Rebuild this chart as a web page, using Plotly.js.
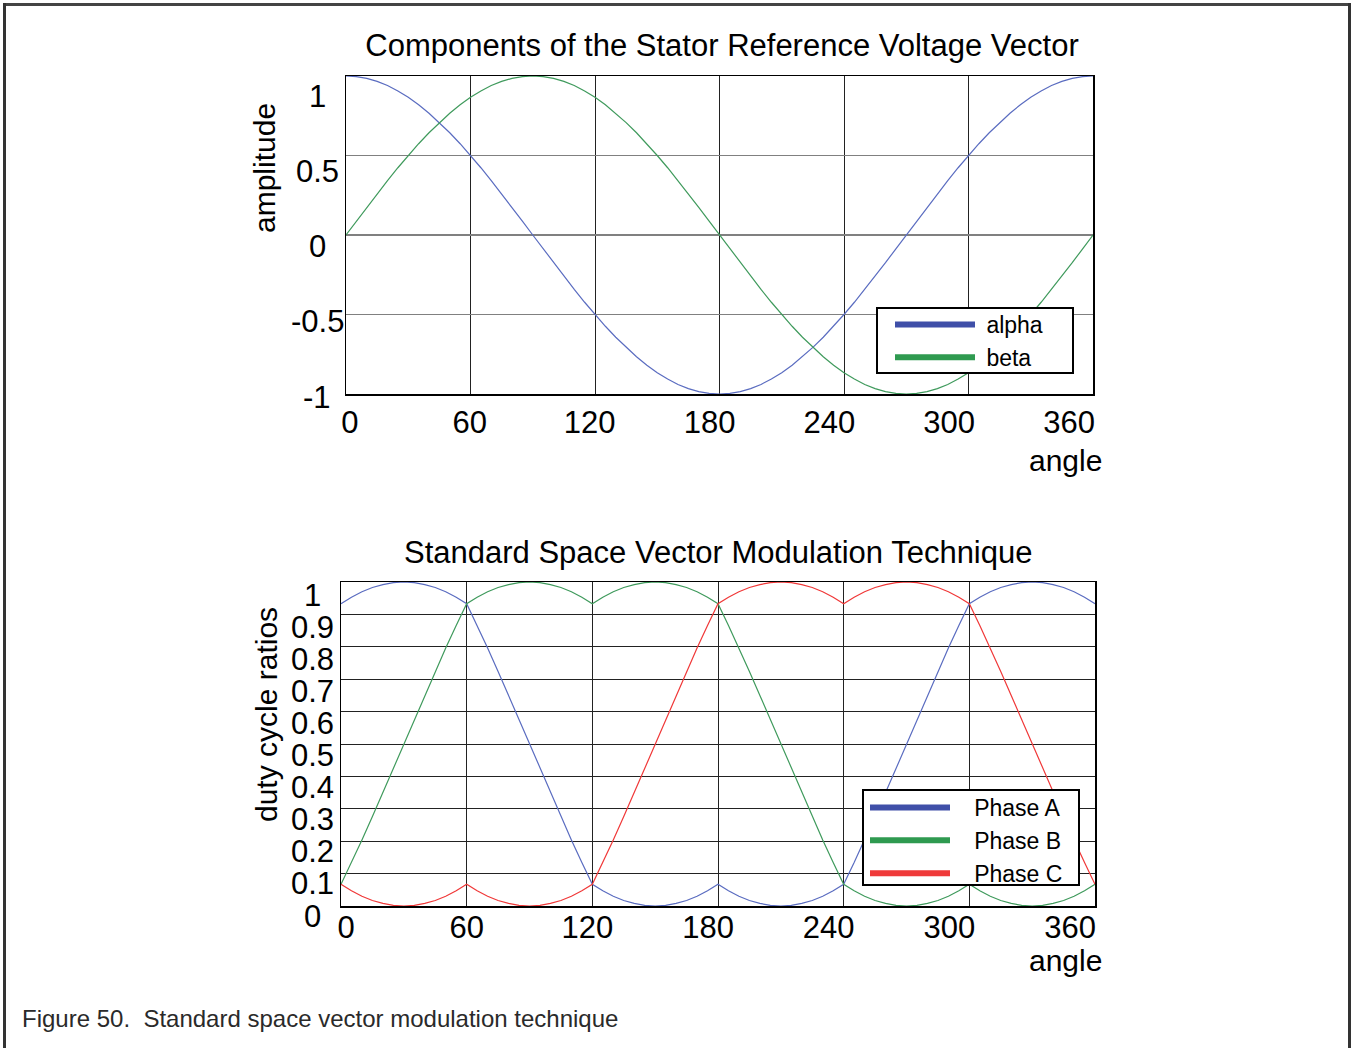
<!DOCTYPE html>
<html><head><meta charset="utf-8">
<script src="https://cdn.plot.ly/plotly-3.0.1.min.js"></script>
<style>html,body{margin:0;padding:0;background:#fff}#chart{width:1352px;height:1048px}</style>
</head><body><div id="chart"></div>
<script>
// ---- data ----
const angle = [0,5,10,15,20,25,30,35,40,45,50,55,60,65,70,75,80,85,90,95,100,105,110,115,120,125,130,135,140,145,150,155,160,165,170,175,180,185,190,195,200,205,210,215,220,225,230,235,240,245,250,255,260,265,270,275,280,285,290,295,300,305,310,315,320,325,330,335,340,345,350,355,360];

const alpha = [1,.996,.985,.966,.940,.906,.866,.819,.766,.707,.643,.574,.5,.423,.342,.259,.174,.087,0,
  -.087,-.174,-.259,-.342,-.423,-.5,-.574,-.643,-.707,-.766,-.819,-.866,-.906,-.940,-.966,-.985,-.996,-1,
  -.996,-.985,-.966,-.940,-.906,-.866,-.819,-.766,-.707,-.643,-.574,-.5,-.423,-.342,-.259,-.174,-.087,0,
  .087,.174,.259,.342,.423,.5,.574,.643,.707,.766,.819,.866,.906,.940,.966,.985,.996,1];

const beta = [0,.087,.174,.259,.342,.423,.5,.574,.643,.707,.766,.819,.866,.906,.940,.966,.985,.996,1,
  .996,.985,.966,.940,.906,.866,.819,.766,.707,.643,.574,.5,.423,.342,.259,.174,.087,0,
  -.087,-.174,-.259,-.342,-.423,-.5,-.574,-.643,-.707,-.766,-.819,-.866,-.906,-.940,-.966,-.985,-.996,-1,
  -.996,-.985,-.966,-.940,-.906,-.866,-.819,-.766,-.707,-.643,-.574,-.5,-.423,-.342,-.259,-.174,-.087,0];

const phaseA = [.933,.953,.970,.983,.992,.998,1,.998,.992,.983,.970,.953,.933,
  .866,.796,.724,.650,.576,.5,.424,.350,.276,.204,.134,.067,
  .047,.030,.017,.008,.002,0,.002,.008,.017,.030,.047,.067,
  .047,.030,.017,.008,.002,0,.002,.008,.017,.030,.047,.067,
  .134,.204,.276,.350,.424,.5,.576,.650,.724,.796,.866,.933,
  .953,.970,.983,.992,.998,1,.998,.992,.983,.970,.953,.933];

const phaseB = [.067,.134,.204,.276,.350,.424,.5,.576,.650,.724,.796,.866,.933,
  .953,.970,.983,.992,.998,1,.998,.992,.983,.970,.953,.933,
  .953,.970,.983,.992,.998,1,.998,.992,.983,.970,.953,.933,
  .866,.796,.724,.650,.576,.5,.424,.350,.276,.204,.134,.067,
  .047,.030,.017,.008,.002,0,.002,.008,.017,.030,.047,.067,
  .047,.030,.017,.008,.002,0,.002,.008,.017,.030,.047,.067];

const phaseC = [.067,.047,.030,.017,.008,.002,0,.002,.008,.017,.030,.047,.067,
  .047,.030,.017,.008,.002,0,.002,.008,.017,.030,.047,.067,
  .134,.204,.276,.350,.424,.5,.576,.650,.724,.796,.866,.933,
  .953,.970,.983,.992,.998,1,.998,.992,.983,.970,.953,.933,
  .953,.970,.983,.992,.998,1,.998,.992,.983,.970,.953,.933,
  .866,.796,.724,.650,.576,.5,.424,.350,.276,.204,.134,.067];

const angleTickVals = [0,60,120,180,240,300,360];
const angleTickText = ['0','60','120','180','240','300','360'];
const ampTickVals = [-1,-0.5,0,0.5,1];
const ampTickText = ['-1','-0.5','0','0.5','1'];
const dutyTickVals = [0,0.1,0.2,0.3,0.4,0.5,0.6,0.7,0.8,0.9,1];
const dutyTickText = ['0','0.1','0.2','0.3','0.4','0.5','0.6','0.7','0.8','0.9','1'];

const topTitle = 'Components of the Stator Reference Voltage Vector';
const bottomTitle = 'Standard Space Vector Modulation Technique';
const caption = 'Figure 50.  Standard space vector modulation technique';
const topLegendNames = ['alpha', 'beta'];
const bottomLegendNames = ['Phase A', 'Phase B', 'Phase C'];

// ---- drawing ----
const W = 1352, H = 1048;
const px = v => v / W, py = v => 1 - v / H;
const FONT = '"Liberation Sans", Arial, Helvetica, sans-serif';
const NB = '\u00a0';

const col = {a: '#5a6cc0', b: '#3f9a5c', c: '#f03838'};
const legCol = {a: '#3f4fa8', b: '#2f9a50', c: '#ef3a3a'};

const traces = [
  {x: angle, y: alpha, xaxis: 'x', yaxis: 'y', mode: 'lines', line: {color: col.a, width: 1.2}, showlegend: false, hoverinfo: 'skip'},
  {x: angle, y: beta, xaxis: 'x', yaxis: 'y', mode: 'lines', line: {color: col.b, width: 1.2}, showlegend: false, hoverinfo: 'skip'},
  {x: [null], y: [null], xaxis: 'x', yaxis: 'y', mode: 'lines', name: NB + topLegendNames[0], line: {color: legCol.a, width: 6}, legend: 'legend'},
  {x: [null], y: [null], xaxis: 'x', yaxis: 'y', mode: 'lines', name: NB + topLegendNames[1], line: {color: legCol.b, width: 6}, legend: 'legend'},
  {x: angle, y: phaseA, xaxis: 'x2', yaxis: 'y2', mode: 'lines', line: {color: col.a, width: 1.2}, showlegend: false, hoverinfo: 'skip'},
  {x: angle, y: phaseB, xaxis: 'x2', yaxis: 'y2', mode: 'lines', line: {color: col.b, width: 1.2}, showlegend: false, hoverinfo: 'skip'},
  {x: angle, y: phaseC, xaxis: 'x2', yaxis: 'y2', mode: 'lines', line: {color: col.c, width: 1.2}, showlegend: false, hoverinfo: 'skip'},
  {x: [null], y: [null], xaxis: 'x2', yaxis: 'y2', mode: 'lines', name: NB + NB + NB + bottomLegendNames[0], line: {color: legCol.a, width: 6}, legend: 'legend2'},
  {x: [null], y: [null], xaxis: 'x2', yaxis: 'y2', mode: 'lines', name: NB + NB + NB + bottomLegendNames[1], line: {color: legCol.b, width: 6}, legend: 'legend2'},
  {x: [null], y: [null], xaxis: 'x2', yaxis: 'y2', mode: 'lines', name: NB + NB + NB + bottomLegendNames[2], line: {color: legCol.c, width: 6}, legend: 'legend2'},
  // label-only overlay axes
  {x: [null], y: [null], xaxis: 'x3', yaxis: 'y3', mode: 'lines', showlegend: false, hoverinfo: 'skip'},
  {x: [null], y: [null], xaxis: 'x4', yaxis: 'y4', mode: 'lines', showlegend: false, hoverinfo: 'skip'}
];

const gridAxis = (extra) => Object.assign({
  showticklabels: false, ticks: '', zeroline: false, showgrid: true,
  showline: true, mirror: true, linecolor: '#000', linewidth: 1.5, fixedrange: true
}, extra);

const labelAxis = (extra) => Object.assign({
  showgrid: false, zeroline: false, showline: false, ticks: '', fixedrange: true,
  tickfont: {family: FONT, size: 31, color: '#000'}
}, extra);

const legendBase = {xanchor: 'left', yanchor: 'top', bgcolor: 'rgba(0,0,0,0)', borderwidth: 0,
  font: {family: FONT, size: 23, color: '#000'}, itemwidth: 80, tracegroupgap: 0};

const tickFont = {family: FONT, size: 31, color: '#000'};
// centred y tick labels (as in the reference); the label scale is offset from the grid as in the picture
const ampLabelRange = [-0.98, 1.138];
const dutyLabelRange = [0.0312, 1.0405];
const frac = (v, r) => (v - r[0]) / (r[1] - r[0]);
const yLabels = [].concat(
  ampTickVals.map((v, i) => ({text: ampTickText[i], xref: 'paper', yref: 'y domain', x: px(317), y: frac(v, ampLabelRange),
    xanchor: 'center', yanchor: 'middle', showarrow: false, font: tickFont})),
  dutyTickVals.map((v, i) => ({text: dutyTickText[i], xref: 'paper', yref: 'y2 domain', x: px(312), y: frac(v, dutyLabelRange),
    xanchor: 'center', yanchor: 'middle', showarrow: false, font: tickFont}))
);

const layout = {
  width: W, height: H, autosize: false,
  margin: {l: 0, r: 0, t: 0, b: 0},
  paper_bgcolor: '#fff', plot_bgcolor: 'rgba(0,0,0,0)',
  font: {family: FONT, color: '#000'},
  title: {text: topTitle, x: px(722), xanchor: 'center', y: py(45), yanchor: 'middle', font: {family: FONT, size: 31, color: '#000'}},
  xaxis: gridAxis({domain: [px(346), px(1093)], anchor: 'y', range: [0, 360], tickvals: angleTickVals, gridcolor: '#222', gridwidth: 1}),
  yaxis: gridAxis({domain: [py(394), py(76)], anchor: 'x', range: [-1, 1], tickvals: ampTickVals, gridcolor: '#808080', gridwidth: 1.5}),
  xaxis2: gridAxis({domain: [px(341), px(1095)], anchor: 'y2', range: [0, 360], tickvals: angleTickVals, gridcolor: '#222', gridwidth: 1}),
  yaxis2: gridAxis({domain: [py(906), py(582)], anchor: 'x2', range: [0, 1], tickvals: dutyTickVals, gridcolor: '#222', gridwidth: 1}),
  xaxis3: labelAxis({overlaying: 'x', anchor: 'y', side: 'bottom', range: [-2, 372], tickvals: angleTickVals, ticktext: angleTickText, ticklabelstandoff: 7}),
  yaxis3: labelAxis({overlaying: 'y', anchor: 'x', side: 'left', range: ampLabelRange, showticklabels: false}),
  xaxis4: labelAxis({overlaying: 'x2', anchor: 'y2', side: 'bottom', range: [-2.5, 372.4], tickvals: angleTickVals, ticktext: angleTickText}),
  yaxis4: labelAxis({overlaying: 'y2', anchor: 'x2', side: 'left', range: dutyLabelRange, showticklabels: false}),
  legend: Object.assign({}, legendBase, {x: px(890), y: py(303)}),
  legend2: Object.assign({}, legendBase, {x: px(865), y: py(786)}),
  annotations: yLabels.concat([
    {text: bottomTitle, xref: 'paper', yref: 'paper', x: px(718), y: py(552), xanchor: 'center', yanchor: 'middle', showarrow: false, font: {family: FONT, size: 31, color: '#000'}},
    {text: 'amplitude', xref: 'paper', yref: 'paper', x: px(265), y: py(168), xanchor: 'center', yanchor: 'middle', textangle: -90, showarrow: false, font: {family: FONT, size: 30, color: '#000'}},
    {text: 'duty cycle ratios', xref: 'paper', yref: 'paper', x: px(266), y: py(715), xanchor: 'center', yanchor: 'middle', textangle: -90, showarrow: false, font: {family: FONT, size: 30, color: '#000'}},
    {text: 'angle', xref: 'paper', yref: 'paper', x: px(1065), y: py(460), xanchor: 'center', yanchor: 'middle', showarrow: false, font: {family: FONT, size: 30, color: '#000'}},
    {text: 'angle', xref: 'paper', yref: 'paper', x: px(1065), y: py(960), xanchor: 'center', yanchor: 'middle', showarrow: false, font: {family: FONT, size: 30, color: '#000'}},
    {text: caption, xref: 'paper', yref: 'paper', x: px(20), y: py(1018), xanchor: 'left', yanchor: 'middle', showarrow: false, font: {family: FONT, size: 24, color: '#2a2a2a'}}
  ]),
  shapes: [
    {type: 'line', xref: 'paper', yref: 'paper', x0: px(3), x1: px(1351), y0: py(4.5), y1: py(4.5), line: {color: '#444', width: 3}},
    {type: 'line', xref: 'paper', yref: 'paper', x0: px(4.5), x1: px(4.5), y0: py(3), y1: 0, line: {color: '#333', width: 3}},
    {type: 'line', xref: 'paper', yref: 'paper', x0: px(1349.5), x1: px(1349.5), y0: py(3), y1: 0, line: {color: '#333', width: 3}},
    // legend boxes
    {type: 'rect', xref: 'paper', yref: 'paper', layer: 'above', x0: px(877), x1: px(1073), y0: py(373), y1: py(308), fillcolor: '#fff', line: {color: '#000', width: 2}},
    {type: 'rect', xref: 'paper', yref: 'paper', layer: 'above', x0: px(863), x1: px(1079), y0: py(885), y1: py(790), fillcolor: '#fff', line: {color: '#000', width: 2}}
  ]
};

Plotly.newPlot('chart', traces, layout, {displayModeBar: false, staticPlot: true});
</script>
</body></html>
